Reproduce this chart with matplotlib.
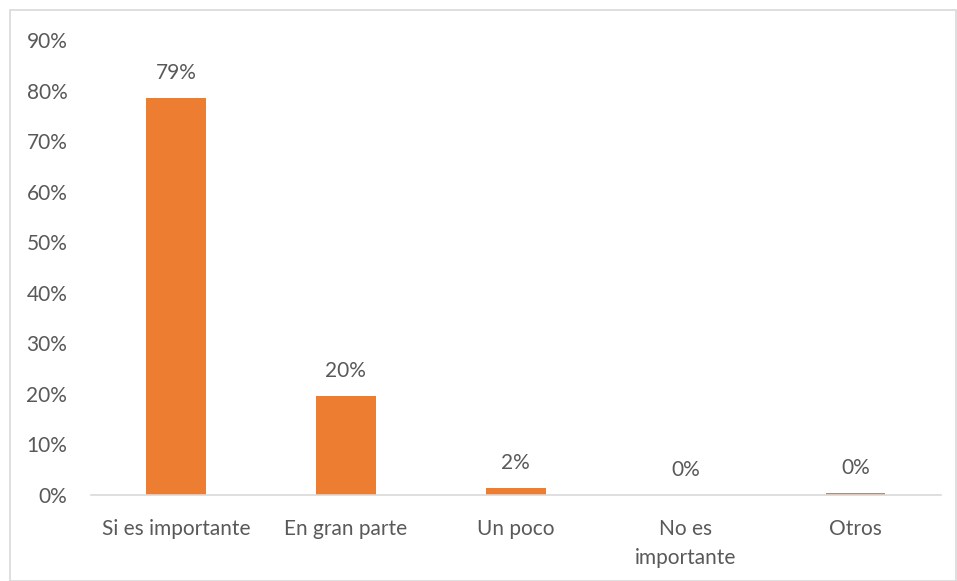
import matplotlib.pyplot as plt
from matplotlib.patches import Rectangle

categories = ["Si es importante", "En gran parte", "Un poco", "No es\nimportante", "Otros"]
values = [0.785, 0.195, 0.014, 0.0, 0.003]
labels = ["79%", "20%", "2%", "0%", "0%"]
yticks = [0, 0.1, 0.2, 0.3, 0.4, 0.5, 0.6, 0.7, 0.8, 0.9]

plt.rcParams['font.family'] = ['Lato', 'DejaVu Sans']
text_color = '#595959'
fsize = 15

fig = plt.figure(figsize=(9.57, 5.81), dpi=100)
ax = fig.add_axes([0.095, 0.148, 0.888, 0.783])

x = range(len(categories))
ax.bar(x, values, width=0.35, color='#ED7D31')
for i, (v, lab) in enumerate(zip(values, labels)):
    ax.text(i, v + 0.03, lab, ha='center', va='bottom', fontsize=fsize, color=text_color)

ax.set_xlim(-0.5, len(categories) - 0.5)
ax.set_ylim(0, 0.9)
ax.set_yticks(yticks)
ax.set_yticklabels([f"{int(round(t * 100))}%" for t in yticks])
ax.set_xticks(list(x))
ax.set_xticklabels(categories, linespacing=1.6)
ax.tick_params(axis='both', length=0, labelsize=fsize, colors=text_color)
ax.tick_params(axis='y', pad=17)
ax.tick_params(axis='x', pad=17)

for side in ['top', 'right', 'left']:
    ax.spines[side].set_visible(False)
ax.spines['bottom'].set_color('#D9D9D9')
ax.spines['bottom'].set_linewidth(1.2)

# outer chart border
fig.patches.append(Rectangle((0.0105, 0.0), 0.988, 0.982, transform=fig.transFigure,
                             fill=False, edgecolor='#D9D9D9', linewidth=1.2))

fig.savefig("out.png", dpi=100)
